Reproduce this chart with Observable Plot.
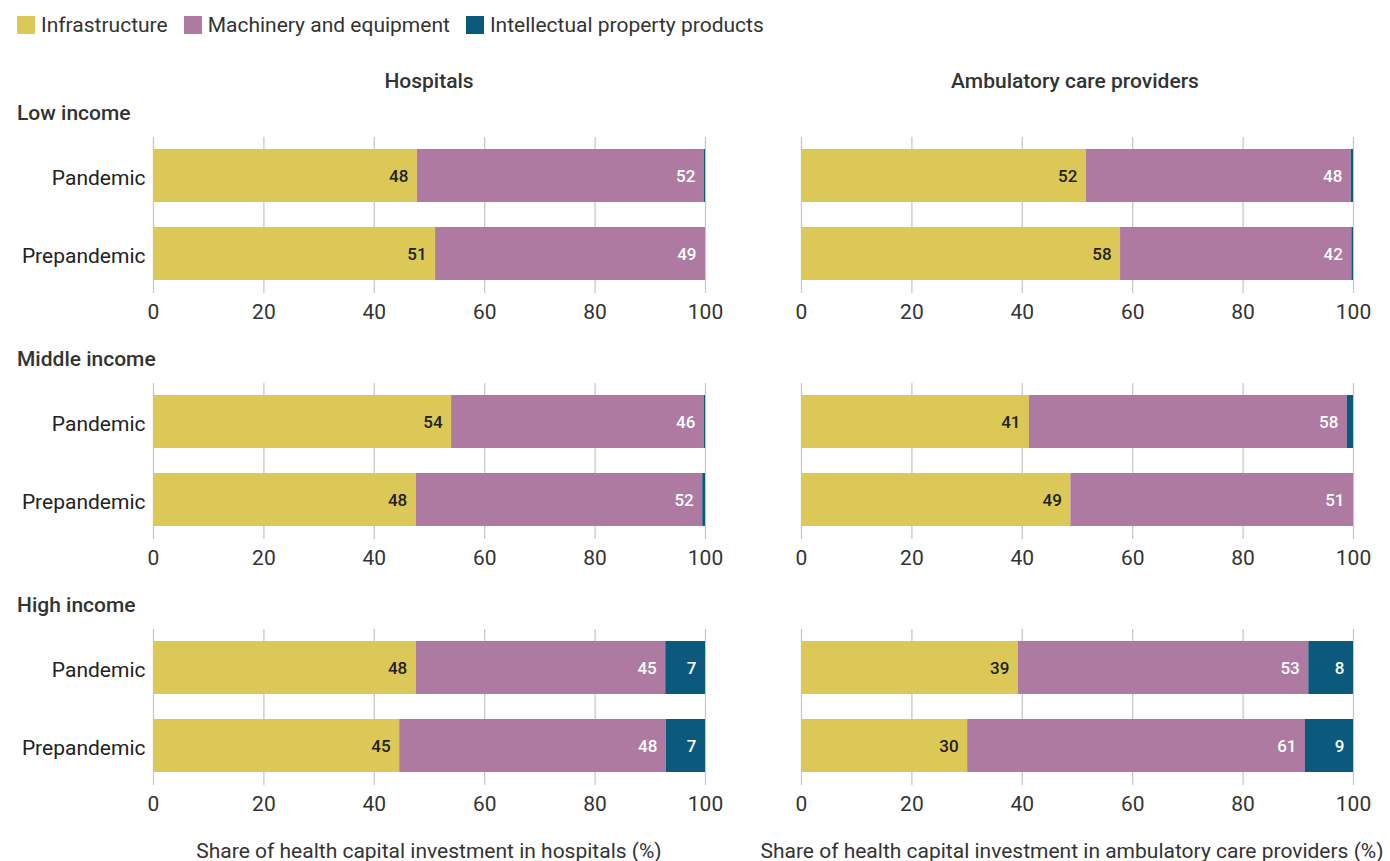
<!DOCTYPE html>
<html>
<head>
<meta charset="utf-8">
<script src="https://cdn.jsdelivr.net/npm/d3@7"></script>
<script src="https://cdn.jsdelivr.net/npm/@observablehq/plot@0.6"></script>
<style>
  html, body { margin: 0; padding: 0; background: white; }
  body { width: 1390px; height: 861px; position: relative; overflow: hidden; font-family: Roboto, "Noto Sans", sans-serif; color: #333; }
  .abs { position: absolute; white-space: nowrap; }
  .c { transform: translate(-50%, -50%); }
  .l { transform: translate(0, -50%); }
  .title { font-size: 21px; font-weight: 500; }
  .reg { font-size: 21px; }
  .legend { position: absolute; left: 17px; top: 25px; transform: translate(0,-50%); display: flex; align-items: center; font-size: 21px; }
  .legend span.sw { display: inline-block; width: 18px; height: 18px; margin-right: 6px; }
  .legend span.lab { margin-right: 16px; }
  .panel { position: absolute; }
</style>
</head>
<body>
<div id="root"></div>
<script>
// ---- data ----
const components = ["Infrastructure", "Machinery and equipment", "Intellectual property products"];
const colors = ["#DCC856", "#AF7AA1", "#0B5A7E"];
const incomes = ["Low income", "Middle income", "High income"];
const periods = ["Pandemic", "Prepandemic"];
const providers = ["Hospitals", "Ambulatory care providers"];
const axisTitles = ["Share of health capital investment in hospitals (%)", "Share of health capital investment in ambulatory care providers (%)"];
const xTicks = [0, 20, 40, 60, 80, 100];

// order of rows: Low Pandemic, Low Prepandemic, Middle Pandemic, Middle Prepandemic, High Pandemic, High Prepandemic
const hospInfra = [47.8, 51.1, 54.0, 47.6, 47.6, 44.6];
const hospMach  = [52.0, 48.9, 45.8, 51.9, 45.2, 48.3];
const hospIPP   = [0.2, 0.0, 0.2, 0.5, 7.2, 7.1];

const ambInfra = [51.6, 57.8, 41.3, 48.8, 39.3, 30.1];
const ambMach  = [48.0, 41.9, 57.6, 51.2, 52.6, 61.2];
const ambIPP   = [0.4, 0.3, 1.1, 0.0, 8.1, 8.7];

const series = [[hospInfra, hospMach, hospIPP], [ambInfra, ambMach, ambIPP]];

// ---- layout ----
const body = document.body;
function addText(txt, cls, left, top) {
  const d = document.createElement("div");
  d.className = "abs " + cls;
  d.style.left = left + "px";
  d.style.top = top + "px";
  d.textContent = txt;
  body.appendChild(d);
}

// legend
const leg = document.createElement("div");
leg.className = "legend";
components.forEach((c, i) => {
  const sw = document.createElement("span");
  sw.className = "sw"; sw.style.background = colors[i];
  const lab = document.createElement("span");
  lab.className = "lab"; lab.textContent = c;
  leg.appendChild(sw); leg.appendChild(lab);
});
body.appendChild(leg);

const colCenters = [429, 1075];
const axisTitleCenters = [429, 1072];
providers.forEach((p, j) => addText(p, "title c", colCenters[j], 81));
axisTitles.forEach((t, j) => addText(t, "reg c", axisTitleCenters[j], 851));

const rowLabelY = [113, 359, 605];
const rowTop = [127, 373, 619];
incomes.forEach((inc, r) => addText(inc, "title l", 17, rowLabelY[r]));

const panelGeom = [
  {left: 0, width: 740, marginLeft: 153, marginRight: 35, showY: true},
  {left: 760, width: 630, marginLeft: 41, marginRight: 37, showY: false}
];

function makePanel(r, j) {
  const [inf, mach, ipp] = series[j];
  const rows = [];
  periods.forEach((p, k) => {
    const idx = r * 2 + k;
    rows.push({period: p, comp: components[0], value: inf[idx]});
    rows.push({period: p, comp: components[1], value: mach[idx]});
    rows.push({period: p, comp: components[2], value: ipp[idx]});
  });
  const g = panelGeom[j];
  const yScale = {domain: periods, paddingInner: 0.32, paddingOuter: 0.16, label: null};
  if (!g.showY) yScale.axis = null;
  const chart = Plot.plot({
    width: g.width,
    height: 196,
    marginTop: 10,
    marginBottom: 30,
    marginLeft: g.marginLeft,
    marginRight: g.marginRight,
    style: {fontFamily: "Roboto, sans-serif", fontSize: "21px", color: "#333", background: "transparent", overflow: "visible"},
    x: {domain: [0, 100], label: null},
    y: yScale,
    color: {domain: components, range: colors},
    marks: [
      Plot.gridX(xTicks, {stroke: "#c8c8c8", strokeOpacity: 1, strokeWidth: 1.3}),
      Plot.barX(rows, Plot.stackX({x: "value", y: "period", fill: "comp", z: "comp"})),
      Plot.text(rows, Plot.stackX2({
        x: "value", y: "period", z: "comp",
        text: d => (d.comp === components[0] && d.value >= 3) ? String(Math.round(d.value)) : "",
        textAnchor: "end", dx: -9, dy: 1, fill: "#222", fontSize: 17, fontWeight: 500
      })),
      Plot.text(rows, Plot.stackX2({
        x: "value", y: "period", z: "comp",
        text: d => (d.comp !== components[0] && d.value >= 3) ? String(Math.round(d.value)) : "",
        textAnchor: "end", dx: -9, dy: 1, fill: "white", fontSize: 17, fontWeight: 500
      })),
      Plot.axisX(xTicks, {tickSize: 0, tickPadding: 11, fontSize: 21, label: null, fill: "#333"}),
      g.showY ? Plot.axisY({tickSize: 0, tickPadding: 8, fontSize: 21, label: null, fill: "#222", dy: 2}) : null
    ]
  });
  const wrap = document.createElement("div");
  wrap.className = "panel";
  wrap.style.left = g.left + "px";
  wrap.style.top = rowTop[r] + "px";
  wrap.appendChild(chart);
  body.appendChild(wrap);
}

for (let r = 0; r < 3; r++) for (let j = 0; j < 2; j++) makePanel(r, j);
</script>
</body>
</html>
